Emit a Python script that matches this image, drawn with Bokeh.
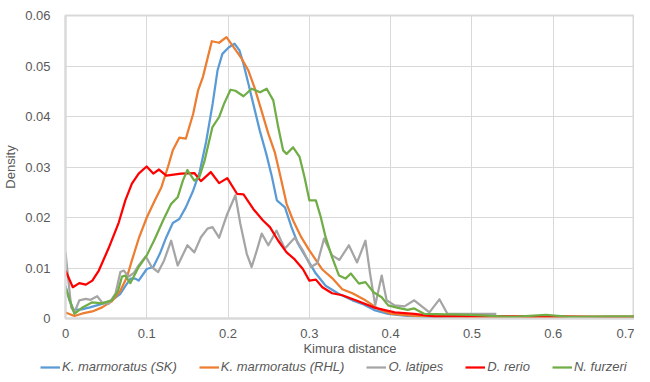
from bokeh.plotting import figure
from bokeh.layouts import column
from bokeh.models import Range1d, FixedTicker, Legend, LegendItem
from bokeh.embed import file_html
from bokeh.resources import INLINE

# ---- data ----
sk_x = [0, 0.005, 0.01, 0.02, 0.03, 0.045, 0.057, 0.0675, 0.074, 0.08, 0.086, 0.09, 0.1, 0.108,
        0.116, 0.124, 0.132, 0.14, 0.148, 0.157, 0.165, 0.173, 0.181, 0.187, 0.193, 0.201, 0.208,
        0.214, 0.219, 0.225, 0.231, 0.239, 0.247, 0.254, 0.26, 0.27, 0.278, 0.286, 0.296, 0.308,
        0.32, 0.336, 0.353, 0.365, 0.381, 0.397, 0.42, 0.45, 0.5, 0.55, 0.6, 0.65, 0.7]
sk_y = [0.0065, 0.0035, 0.0017, 0.0018, 0.0022, 0.0029, 0.0036, 0.0049, 0.0065, 0.0079, 0.0079,
        0.0075, 0.0098, 0.0102, 0.0128, 0.0161, 0.0189, 0.0197, 0.022, 0.0253, 0.0290, 0.0350,
        0.0425, 0.0491, 0.0524, 0.0537, 0.0544, 0.0531, 0.0504, 0.0465, 0.0425, 0.0372, 0.0326,
        0.0280, 0.0234, 0.0220, 0.0181, 0.0148, 0.0121, 0.0089, 0.0065, 0.0049, 0.0036, 0.0029,
        0.0016, 0.0009, 0.0005, 0.0003, 0.0002, 0.0002, 0.0002, 0.0002, 0.0002]

rhl_x = [0, 0.011, 0.021, 0.033, 0.045, 0.057, 0.0675, 0.0756, 0.0817, 0.09, 0.1, 0.11, 0.118,
         0.126, 0.132, 0.14, 0.148, 0.157, 0.163, 0.169, 0.175, 0.18, 0.189, 0.198, 0.207, 0.217,
         0.225, 0.233, 0.241, 0.2495, 0.2575, 0.2636, 0.272, 0.28, 0.29, 0.3, 0.316, 0.328, 0.3405,
         0.353, 0.369, 0.385, 0.401, 0.43, 0.47, 0.5, 0.55, 0.6, 0.65, 0.7]
rhl_y = [0.0012, 0.0005, 0.0010, 0.0014, 0.0022, 0.0034, 0.0055, 0.0082, 0.0115, 0.0158, 0.0200,
         0.0234, 0.0260, 0.0300, 0.0333, 0.0358, 0.0356, 0.0405, 0.0451, 0.0478, 0.0517, 0.0549,
         0.0546, 0.0557, 0.0537, 0.0514, 0.0491, 0.0455, 0.0412, 0.0366, 0.0329, 0.0287, 0.0227,
         0.0194, 0.0161, 0.0135, 0.0097, 0.0080, 0.0058, 0.0050, 0.0036, 0.0019, 0.0009, 0.0005,
         0.0004, 0.0003, 0.0003, 0.0003, 0.0003, 0.0003]

ol_x = [0, 0.007, 0.011, 0.017, 0.025, 0.031, 0.039, 0.045, 0.053, 0.0615, 0.0675, 0.0716,
        0.0776, 0.084, 0.09, 0.0987, 0.106, 0.114, 0.1213, 0.13, 0.138, 0.15, 0.1585, 0.1666,
        0.1747, 0.1808, 0.189, 0.199, 0.209, 0.215, 0.223, 0.229, 0.2354, 0.2414, 0.2495, 0.2596,
        0.2697, 0.282, 0.292, 0.302, 0.31, 0.318, 0.328, 0.337, 0.3486, 0.3587, 0.369, 0.3747,
        0.381, 0.389, 0.395, 0.405, 0.417, 0.429, 0.4477, 0.46, 0.47, 0.5, 0.53]
ol_y = [0.0131, 0.0022, 0.0012, 0.0036, 0.0039, 0.0037, 0.0044, 0.0032, 0.0029, 0.0049, 0.0092,
        0.0095, 0.0083, 0.0090, 0.0105, 0.0123, 0.0102, 0.0092, 0.0115, 0.0154, 0.0105, 0.0145,
        0.0131, 0.0161, 0.0178, 0.0181, 0.0160, 0.0207, 0.0244, 0.0188, 0.0128, 0.0102, 0.0135,
        0.0168, 0.0145, 0.0174, 0.0138, 0.0160, 0.0135, 0.0102, 0.0110, 0.0158, 0.0125, 0.0116,
        0.0145, 0.0111, 0.0154, 0.0089, 0.0026, 0.0085, 0.0036, 0.0026, 0.0024, 0.0036, 0.0012,
        0.0038, 0.0009, 0.0009, 0.0009]

dr_x = [0, 0.009, 0.017, 0.025, 0.033, 0.041, 0.053, 0.0655, 0.0736, 0.0817, 0.09, 0.0998,
        0.108, 0.115, 0.124, 0.142, 0.1585, 0.1666, 0.1787, 0.189, 0.199, 0.211, 0.219, 0.231,
        0.243, 0.2515, 0.2617, 0.272, 0.282, 0.292, 0.3, 0.308, 0.316, 0.328, 0.3405, 0.357,
        0.381, 0.405, 0.429, 0.454, 0.5, 0.55, 0.6, 0.65, 0.7]
dr_y = [0.0095, 0.0062, 0.0070, 0.0067, 0.0075, 0.0095, 0.0139, 0.0190, 0.0234, 0.0267, 0.0287,
        0.0301, 0.0287, 0.0295, 0.0283, 0.0287, 0.0288, 0.0272, 0.0290, 0.0268, 0.0278, 0.0247,
        0.0246, 0.0217, 0.0194, 0.0181, 0.0154, 0.0131, 0.0117, 0.0098, 0.0075, 0.0077, 0.0062,
        0.0050, 0.0046, 0.0036, 0.0021, 0.0012, 0.0009, 0.0004, 0.0005, 0.0004, 0.0004, 0.0003,
        0.0003]

nf_x = [0, 0.011, 0.021, 0.033, 0.045, 0.057, 0.0647, 0.0695, 0.0736, 0.0797, 0.09, 0.1, 0.11,
        0.12, 0.13, 0.138, 0.1444, 0.15, 0.1585, 0.1646, 0.1707, 0.1808, 0.189, 0.195, 0.203,
        0.209, 0.219, 0.229, 0.2394, 0.2475, 0.2556, 0.2617, 0.2677, 0.272, 0.28, 0.288, 0.294,
        0.3, 0.308, 0.314, 0.32, 0.328, 0.3365, 0.3445, 0.351, 0.361, 0.369, 0.379, 0.389, 0.397,
        0.409, 0.421, 0.429, 0.4416, 0.47, 0.5, 0.551, 0.591, 0.62, 0.672, 0.7]
nf_y = [0.0062, 0.0009, 0.0022, 0.0032, 0.0030, 0.0036, 0.0055, 0.0083, 0.0085, 0.0070, 0.0102,
        0.0125, 0.0158, 0.0194, 0.0227, 0.0240, 0.0273, 0.0294, 0.0273, 0.0280, 0.0310, 0.0379,
        0.0399, 0.0425, 0.0453, 0.0451, 0.0440, 0.0455, 0.0448, 0.0455, 0.0432, 0.0379, 0.0333,
        0.0326, 0.0339, 0.0320, 0.0280, 0.0234, 0.0234, 0.0201, 0.0161, 0.0121, 0.0085, 0.0079,
        0.0089, 0.0069, 0.0072, 0.0052, 0.0042, 0.0026, 0.0021, 0.0017, 0.0020, 0.0009, 0.0008,
        0.0007, 0.0003, 0.0007, 0.0003, 0.0004, 0.0004]

series_names = ["K. marmoratus (SK)", "K. marmoratus (RHL)", "O. latipes", "D. rerio", "N. furzeri"]
series_colors = ["#5B9BD5", "#ED7D31", "#A5A5A5", "#FF0000", "#70AD47"]

x_ticks = [0, 0.1, 0.2, 0.3, 0.4, 0.5, 0.6, 0.7]
x_tick_labels = ["0", "0.1", "0.2", "0.3", "0.4", "0.5", "0.6", "0.7"]
y_ticks = [0, 0.01, 0.02, 0.03, 0.04, 0.05, 0.06]
y_tick_labels = ["0", "0.01", "0.02", "0.03", "0.04", "0.05", "0.06"]

FONT = "Liberation Sans"
TXT = "#595959"
GRID = "#D9D9D9"

# ---- main chart ----
p = figure(width=634, height=358, output_backend="svg", toolbar_location=None,
           x_range=Range1d(0, 0.7), y_range=Range1d(0, 0.06),
           min_border_left=58, min_border_right=0, min_border_top=15, min_border_bottom=40)
p.outline_line_color = GRID
p.outline_line_width = 2
p.background_fill_color = "white"
p.border_fill_color = "white"

for ax, ticks, labels in ((p.xaxis[0], x_ticks, x_tick_labels), (p.yaxis[0], y_ticks, y_tick_labels)):
    ax.ticker = FixedTicker(ticks=ticks)
    ax.major_label_overrides = dict(zip(ticks, labels))
    ax.major_tick_line_color = None
    ax.minor_tick_line_color = None
    ax.axis_line_color = GRID
    ax.axis_line_width = 2
    ax.major_label_text_font = FONT
    ax.major_label_text_font_size = "13px"
    ax.major_label_text_color = TXT
    ax.axis_label_text_font = FONT
    ax.axis_label_text_font_size = "13px"
    ax.axis_label_text_color = TXT
    ax.axis_label_text_font_style = "normal"

p.xaxis.axis_label = "Kimura distance"
p.yaxis.axis_label = "Density"
p.xaxis.major_label_standoff = 4
p.xaxis.axis_label_standoff = 0
p.yaxis.major_label_standoff = 9
p.yaxis.axis_label_standoff = 4

p.xgrid.ticker = FixedTicker(ticks=x_ticks)
p.ygrid.ticker = FixedTicker(ticks=y_ticks)
p.xgrid.grid_line_color = GRID
p.ygrid.grid_line_color = GRID

data = [(sk_x, sk_y), (rhl_x, rhl_y), (ol_x, ol_y), (dr_x, dr_y), (nf_x, nf_y)]
for (xs, ys), col in zip(data, series_colors):
    p.line(xs, ys, line_color=col, line_width=2.25, line_join="round")

# ---- legend strip below the chart ----
lg = figure(width=634, height=16, output_backend="svg", toolbar_location=None,
            x_range=Range1d(0, 1), y_range=Range1d(0, 1),
            x_axis_type=None, y_axis_type=None,
            min_border_left=0, min_border_right=0, min_border_top=0, min_border_bottom=0)
lg.frame_align = False
lg.outline_line_color = None
lg.grid.visible = False
lg.background_fill_color = "white"
lg.border_fill_color = "white"

nan = float("nan")
items = []
for name, col in zip(series_names, series_colors):
    # legend-only renderer: it carries the colour, draws nothing itself
    r = lg.line([nan, nan], [nan, nan], line_color=col, line_width=2.25)
    items.append(LegendItem(label=name, renderers=[r]))

legend = Legend(items=items, orientation="horizontal", location=(40, 0),
                padding=0, margin=0, spacing=22, glyph_width=20, glyph_height=14,
                label_height=14, label_standoff=2,
                label_text_font=FONT, label_text_font_size="13px",
                label_text_font_style="italic", label_text_color=TXT,
                border_line_color=None, background_fill_alpha=0)
lg.add_layout(legend, "center")

layout = column(p, lg, spacing=0)
open("out.html", "w").write(file_html(layout, INLINE))
